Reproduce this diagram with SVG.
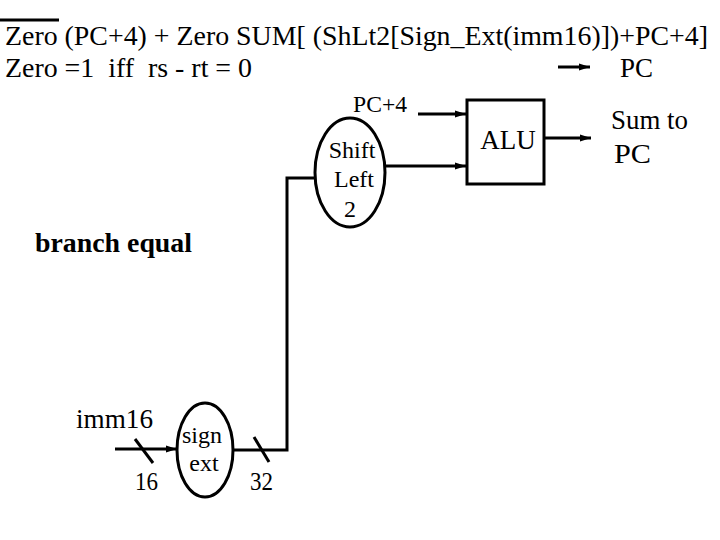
<svg xmlns="http://www.w3.org/2000/svg" width="720" height="540" viewBox="0 0 720 540">
<defs>
<style>
text{font-family:"Liberation Serif","Times New Roman",serif;fill:#000;white-space:pre}
.wire{stroke:#000;stroke-width:3;fill:none}
.shape{stroke:#000;stroke-width:3;fill:#fff}
</style>
<marker id="ah" markerUnits="userSpaceOnUse" markerWidth="12" markerHeight="10" refX="11" refY="5" orient="auto">
<path d="M0,1.5 L11,5 L0,8.5 Z" fill="#000"/>
</marker>
</defs>
<rect width="720" height="540" fill="#fff"/>
<g id="header">
<line x1="0" y1="20" x2="59" y2="20" stroke="#000" stroke-width="3"/>
<text x="5" y="45" font-size="27.6" textLength="703" lengthAdjust="spacingAndGlyphs">Zero (PC+4) + Zero SUM[ (ShLt2[Sign_Ext(imm16)])+PC+4]</text>
<text x="5" y="77" font-size="28" textLength="247" lengthAdjust="spacingAndGlyphs">Zero =1  iff  rs - rt = 0</text>
<text x="620" y="77" font-size="28" textLength="33" lengthAdjust="spacingAndGlyphs">PC</text>
</g>
<g id="label-branch">
<text x="35" y="252" font-size="27" font-weight="bold" textLength="157" lengthAdjust="spacingAndGlyphs">branch equal</text>
</g>
<g id="label-pc4">
<text x="353" y="112" font-size="23" textLength="54" lengthAdjust="spacingAndGlyphs">PC+4</text>
</g>
<g id="alu">
<rect class="shape" x="467" y="100" width="77" height="84"/>
<text x="508" y="149" font-size="27" text-anchor="middle">ALU</text>
</g>
<g id="sum-to-pc">
<text x="611" y="129" font-size="27" textLength="77" lengthAdjust="spacingAndGlyphs">Sum to</text>
<text x="614" y="163" font-size="27" textLength="37" lengthAdjust="spacingAndGlyphs">PC</text>
</g>
<g id="shift-left-2">
<ellipse class="shape" cx="350" cy="172.5" rx="35" ry="54.5"/>
<text x="352" y="158" font-size="24" text-anchor="middle">Shift</text>
<text x="354" y="187" font-size="24" text-anchor="middle">Left</text>
<text x="350" y="217" font-size="24" text-anchor="middle">2</text>
</g>
<g id="sign-ext">
<ellipse class="shape" cx="205" cy="450" rx="28" ry="47"/>
<text x="202" y="443" font-size="24" text-anchor="middle">sign</text>
<text x="204" y="471" font-size="24" text-anchor="middle">ext</text>
</g>
<g id="labels-bits">
<text x="76" y="428" font-size="27" textLength="77" lengthAdjust="spacingAndGlyphs">imm16</text>
<text x="135" y="490" font-size="25" textLength="23" lengthAdjust="spacingAndGlyphs">16</text>
<text x="250" y="490" font-size="25" textLength="23" lengthAdjust="spacingAndGlyphs">32</text>
</g>
<g id="connectors">
<line class="wire" x1="558" y1="67" x2="590" y2="67" marker-end="url(#ah)"/>
<line class="wire" x1="418" y1="114" x2="466" y2="114" marker-end="url(#ah)"/>
<line class="wire" x1="385" y1="166" x2="466" y2="166" marker-end="url(#ah)"/>
<line class="wire" x1="544" y1="138" x2="591" y2="138" marker-end="url(#ah)"/>
<line class="wire" x1="115" y1="449" x2="177" y2="449" marker-end="url(#ah)"/>
<line class="wire" x1="135" y1="439" x2="153" y2="463"/>
<polyline class="wire" points="233,450 287,450 287,178 315,178"/>
<line class="wire" x1="254" y1="437" x2="269" y2="462"/>
</g>
</svg>
